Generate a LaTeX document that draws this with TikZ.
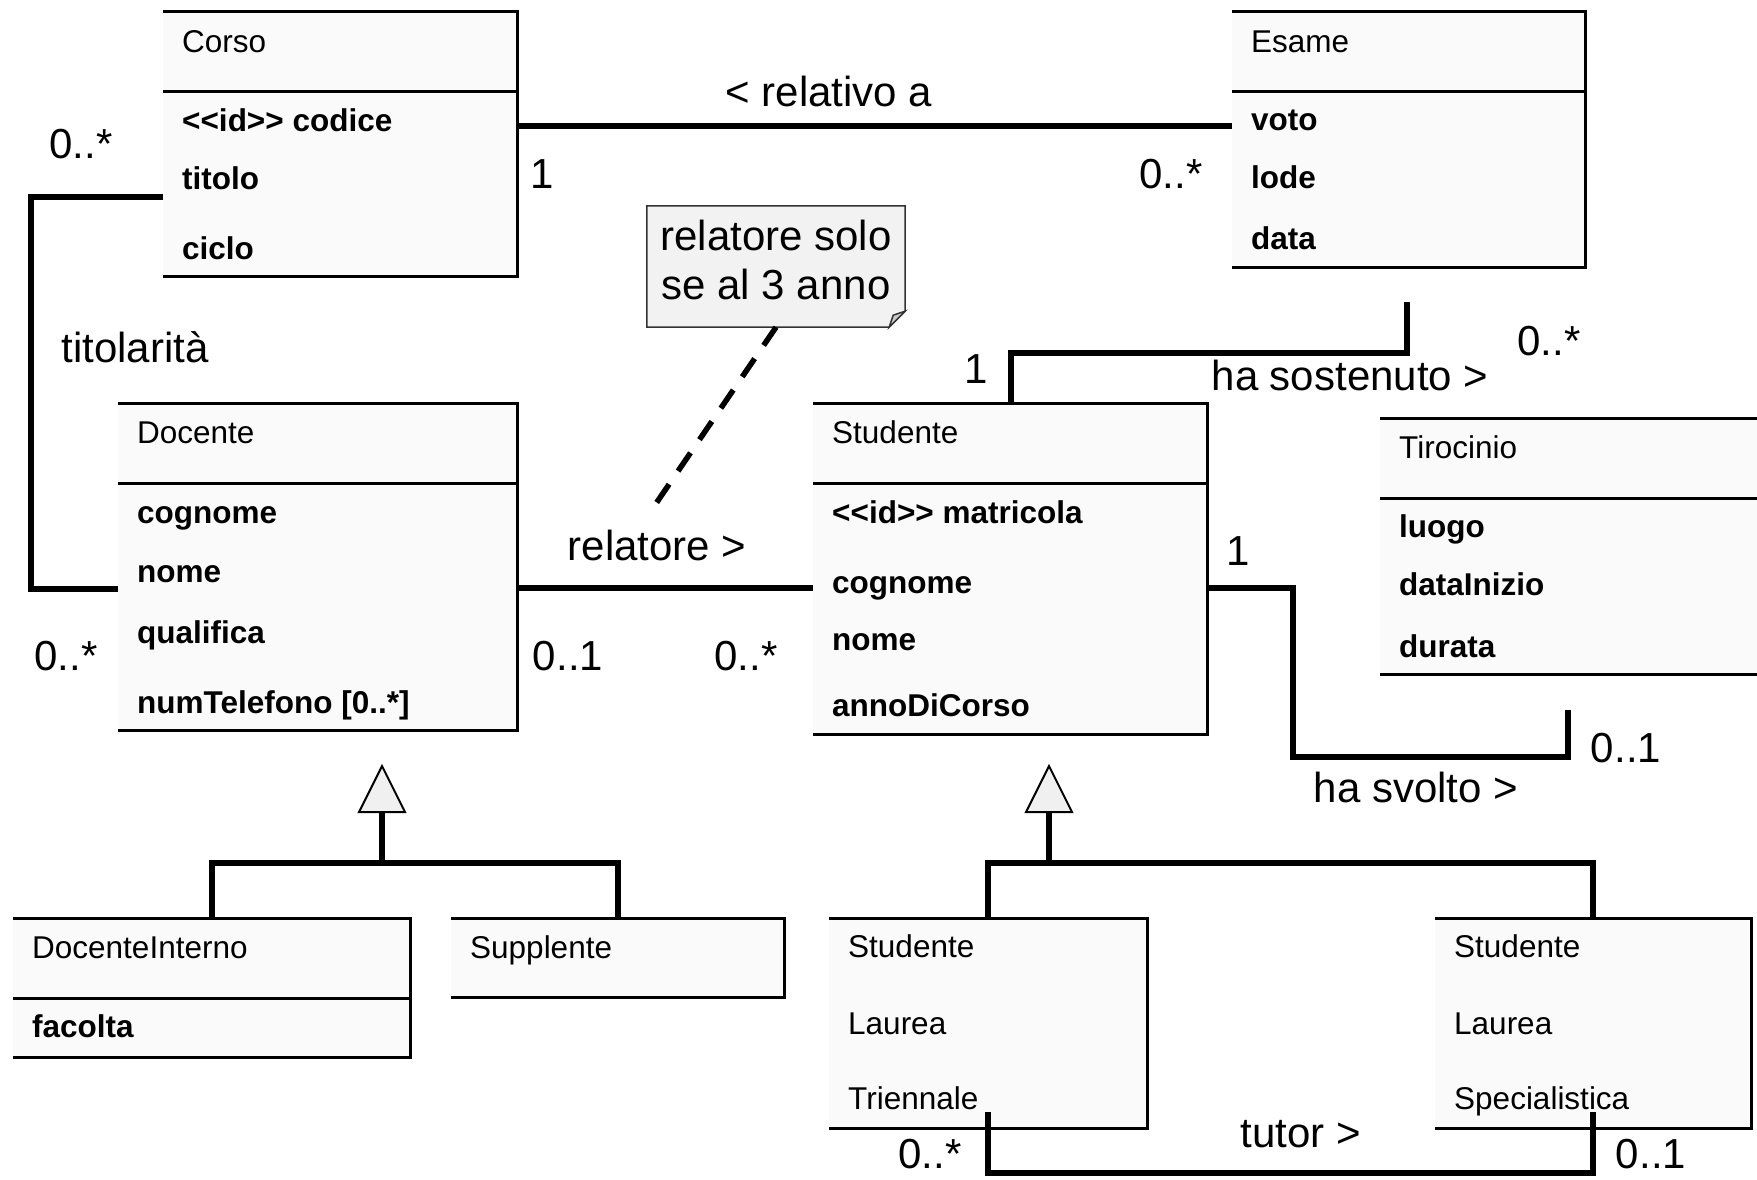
\documentclass[tikz,border=0pt]{standalone}
\usepackage{fontspec}
\setmainfont{Liberation Sans}
\usepackage{tikz}
\definecolor{boxfill}{HTML}{FAFAFA}
\definecolor{headfill}{HTML}{F0F0F0}
\definecolor{notefill}{HTML}{F2F2F2}
\definecolor{notedraw}{HTML}{333333}
\definecolor{foldfill}{HTML}{C8C8C8}
\newcommand{\umlname}{\fontsize{31.5}{38}\selectfont}
\newcommand{\umlattr}{\fontsize{31.5}{38}\selectfont\bfseries}
\newcommand{\umllabel}{\fontsize{42}{50}\selectfont}
\newcommand{\umlnote}{\fontsize{42}{49}\selectfont}
\tikzstyle{classbox} = [rectangle, fill=boxfill, inner sep=0pt, anchor=north west]
\tikzstyle{border} = [line width=3pt]
\tikzstyle{cname} = [anchor=base west, inner sep=0pt, font=\umlname]
\tikzstyle{attr} = [anchor=base west, inner sep=0pt, font=\umlattr]
\tikzstyle{lbl} = [anchor=base, inner sep=0pt, font=\umllabel]
\tikzstyle{assoc} = [line width=6pt]
\tikzstyle{genline} = [line width=6pt]
\tikzstyle{genhead} = [line width=2pt, fill=headfill]
\tikzstyle{notebox} = [rectangle, fill=notefill, inner sep=0pt, align=center, font=\umlnote]
\tikzstyle{noteline} = [line width=1.5pt, draw=notedraw]
\tikzstyle{notelink} = [line width=5.5pt, dash pattern=on 22pt off 16pt]

\begin{document}
\begin{tikzpicture}[x=1pt, y=-1pt]
	\path[use as bounding box, clip] (0,0) rectangle (1757,1179);
	\node (Corso) [classbox, minimum width=354pt, minimum height=265pt] at (163,11) {};
	\node (Esame) [classbox, minimum width=353pt, minimum height=256pt] at (1232,11) {};
	\node (Docente) [classbox, minimum width=399pt, minimum height=327pt] at (118,403) {};
	\node (Studente) [classbox, minimum width=394pt, minimum height=331pt] at (813,403) {};
	\node (Tirocinio) [classbox, minimum width=395pt, minimum height=256pt] at (1380,418) {};
	\node (DocInterno) [classbox, minimum width=397pt, minimum height=139pt] at (13,918) {};
	\node (Supplente) [classbox, minimum width=333pt, minimum height=79pt] at (451,918) {};
	\node (StudTriennale) [classbox, minimum width=318pt, minimum height=210pt] at (829,918) {};
	\node (StudSpecialistica) [classbox, minimum width=316pt, minimum height=210pt] at (1435,918) {};
	\draw [border] (Corso.north west) -- (Corso.north east) -- (Corso.south east) -- (Corso.south west);
	\draw [border] (Esame.north west) -- (Esame.north east) -- (Esame.south east) -- (Esame.south west);
	\draw [border] (Docente.north west) -- (Docente.north east) -- (Docente.south east) -- (Docente.south west);
	\draw [border] (Studente.north west) -- (Studente.north east) -- (Studente.south east) -- (Studente.south west);
	\draw [border] (Tirocinio.north west) -- (Tirocinio.north east) -- (Tirocinio.south east) -- (Tirocinio.south west);
	\draw [border] (DocInterno.north west) -- (DocInterno.north east) -- (DocInterno.south east) -- (DocInterno.south west);
	\draw [border] (Supplente.north west) -- (Supplente.north east) -- (Supplente.south east) -- (Supplente.south west);
	\draw [border] (StudTriennale.north west) -- (StudTriennale.north east) -- (StudTriennale.south east) -- (StudTriennale.south west);
	\draw [border] (StudSpecialistica.north west) -- (StudSpecialistica.north east) -- (StudSpecialistica.south east) -- (StudSpecialistica.south west);
	\draw [border] ([yshift=-80pt]Corso.north west) -- ([yshift=-80pt]Corso.north east);
	\draw [border] ([yshift=-80pt]Esame.north west) -- ([yshift=-80pt]Esame.north east);
	\draw [border] ([yshift=-80pt]Docente.north west) -- ([yshift=-80pt]Docente.north east);
	\draw [border] ([yshift=-80pt]Studente.north west) -- ([yshift=-80pt]Studente.north east);
	\draw [border] ([yshift=-80pt]Tirocinio.north west) -- ([yshift=-80pt]Tirocinio.north east);
	\draw [border] ([yshift=-80pt]DocInterno.north west) -- ([yshift=-80pt]DocInterno.north east);

	\node (CorsoName) [cname] at (182,52) {Corso};
	\node (CorsoCodice) [attr] at (182,131) {<\kern0pt<id>\kern0pt> codice};
	\node (CorsoTitolo) [attr] at (182,189) {titolo};
	\node (CorsoCiclo) [attr] at (182,259) {ciclo};
	\node (EsameName) [cname] at (1251,52) {Esame};
	\node (EsameVoto) [attr] at (1251,130) {voto};
	\node (EsameLode) [attr] at (1251,188) {lode};
	\node (EsameData) [attr] at (1251,249) {data};
	\node (DocenteName) [cname] at (137,443) {Docente};
	\node (DocenteCognome) [attr] at (137,523) {cognome};
	\node (DocenteNome) [attr] at (137,582) {nome};
	\node (DocenteQualifica) [attr] at (137,643) {qualifica};
	\node (DocenteTelefono) [attr] at (137,713) {numTelefono [0..*]};
	\node (StudenteName) [cname] at (832,443) {Studente};
	\node (StudenteMatricola) [attr] at (832,523) {<\kern0pt<id>\kern0pt> matricola};
	\node (StudenteCognome) [attr] at (832,593) {cognome};
	\node (StudenteNome) [attr] at (832,650) {nome};
	\node (StudenteAnno) [attr] at (832,716) {annoDiCorso};
	\node (TirocinioName) [cname] at (1399,458) {Tirocinio};
	\node (TirocinioLuogo) [attr] at (1399,537) {luogo};
	\node (TirocinioInizio) [attr] at (1399,595) {dataInizio};
	\node (TirocinioDurata) [attr] at (1399,657) {durata};
	\node (DocInternoName) [cname] at (32,958) {DocenteInterno};
	\node (DocInternoFacolta) [attr] at (32,1037) {facolta};
	\node (SupplenteName) [cname] at (470,958) {Supplente};
	\node (TriennaleA) [cname] at (848,957) {Studente};
	\node (TriennaleB) [cname] at (848,1034) {Laurea};
	\node (TriennaleC) [cname] at (848,1109) {Triennale};
	\node (SpecialisticaA) [cname] at (1454,957) {Studente};
	\node (SpecialisticaB) [cname] at (1454,1034) {Laurea};
	\node (SpecialisticaC) [cname] at (1454,1109) {Specialistica};

	\coordinate (relativoY) at (0,126);
	\coordinate (titTop) at (31,197);
	\coordinate (titBot) at (31,589);
	\coordinate (relatoreY) at (0,588);
	\coordinate (sostBend) at (1011,353);
	\coordinate (sostEnd) at (1407,302);
	\coordinate (svoltoBend) at (1293,757);
	\coordinate (svoltoEnd) at (1568,710);
	\coordinate (tutorLow) at (0,1173);
	\draw [assoc] (Corso.east |- relativoY) -- (Esame.west |- relativoY);
	\draw [assoc] (Corso.west |- titTop) -- (titTop) -- (titBot) -- (Docente.west |- titBot);
	\draw [assoc] (Docente.east |- relatoreY) -- (Studente.west |- relatoreY);
	\draw [assoc] (Studente.north -| sostBend) -- (sostBend) -| (sostEnd);
	\draw [assoc] (Studente.east |- relatoreY) -| (svoltoBend) -| (svoltoEnd);
	\draw [assoc] ([yshift=16pt]StudTriennale.south) -- (StudTriennale.south |- tutorLow) -| ([yshift=16pt]StudSpecialistica.south);

	\coordinate (docApex) at (382,766);
	\coordinate (docBar) at (382,863);
	\coordinate (studApex) at (1049,766);
	\coordinate (studBar) at (1049,863);
	\draw [genline] (DocInterno.north) |- (docBar) -| (Supplente.north);
	\draw [genline] (docBar) -- ++(0,-51);
	\draw [genhead] (docApex) -- ++(-23,46) -- ++(46,0) -- cycle;
	\draw [genline] (StudTriennale.north) |- (studBar) -| (StudSpecialistica.north);
	\draw [genline] (studBar) -- ++(0,-51);
	\draw [genhead] (studApex) -- ++(-23,46) -- ++(46,0) -- cycle;

	\node (relativoLbl) [lbl] at (829,106) {< relativo a};
	\node (relativoMultCorso) [lbl] at (542,188) {1};
	\node (relativoMultEsame) [lbl] at (1171,188) {0..*};
	\node (titMultCorso) [lbl] at (81,158) {0..*};
	\node (titLbl) [lbl] at (135,362) {titolarità};
	\node (titMultDocente) [lbl] at (66,670) {0..*};
	\node (relatoreLbl) [lbl] at (657,560) {relatore >};
	\node (relatoreMultDocente) [lbl] at (568,670) {0..1};
	\node (relatoreMultStudente) [lbl] at (746,670) {0..*};
	\node (sostMultStudente) [lbl] at (976,383) {1};
	\node (sostLbl) [lbl] at (1350,390) {ha sostenuto >};
	\node (sostMultEsame) [lbl] at (1549,355) {0..*};
	\node (svoltoMultStudente) [lbl] at (1238,565) {1};
	\node (svoltoLbl) [lbl] at (1416,802) {ha svolto >};
	\node (svoltoMultTirocinio) [lbl] at (1626,762) {0..1};
	\node (tutorLbl) [lbl] at (1301,1147) {tutor >};
	\node (tutorMultTriennale) [lbl] at (930,1168) {0..*};
	\node (tutorMultSpecialistica) [lbl] at (1651,1168) {0..1};

	\node (note) [notebox, minimum width=258pt, minimum height=121pt, text depth=14pt] at (776,266.5) {relatore solo\\se al 3 anno};
	\fill [white] ([yshift=16pt]note.south east) -- (note.south east) -- ([xshift=-16pt]note.south east) -- cycle;
	\draw [noteline] (note.north west) -- (note.north east) -- ([yshift=16pt]note.south east) -- ([xshift=-16pt]note.south east) -- (note.south west) -- cycle;
	\filldraw [noteline, fill=foldfill] ([yshift=16pt]note.south east) -- ([xshift=-16pt]note.south east) -- ([shift={(-12pt,12pt)}]note.south east) -- cycle;
	\draw [notelink] (note.south) -- ([shift={(-5pt,20pt)}]relatoreLbl.north);
\end{tikzpicture}
\end{document}
